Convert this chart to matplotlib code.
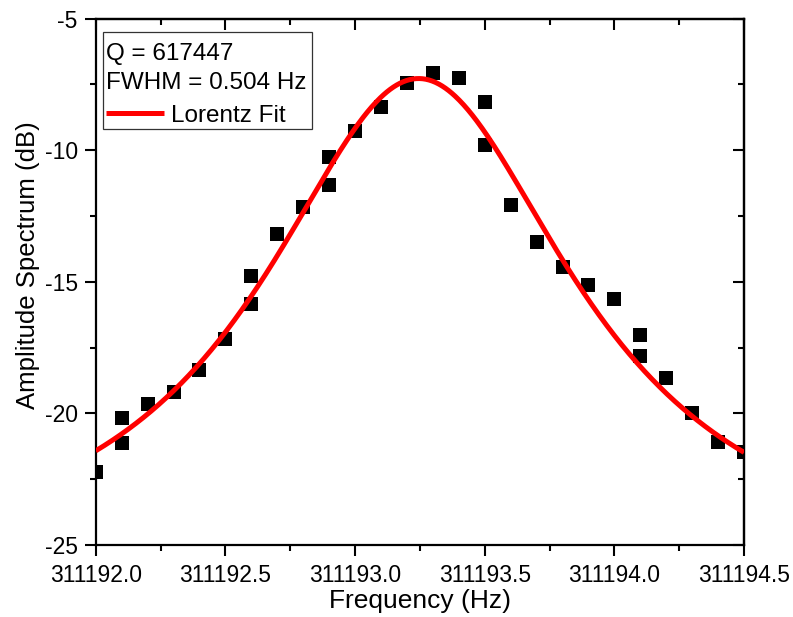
import numpy as np
import matplotlib
matplotlib.use("Agg")
import matplotlib.pyplot as plt
from matplotlib.ticker import MultipleLocator, FormatStrFormatter
from matplotlib.patches import Rectangle

plt.rcParams['font.family'] = ['Liberation Sans', 'DejaVu Sans']

# ---- data ----
freq = [311192.0, 311192.1, 311192.1, 311192.2, 311192.3, 311192.4, 311192.5,
        311192.6, 311192.6, 311192.7, 311192.8, 311192.9, 311192.9, 311193.0,
        311193.1, 311193.2, 311193.3, 311193.4, 311193.5, 311193.5, 311193.6,
        311193.7, 311193.8, 311193.9, 311194.0, 311194.1, 311194.1, 311194.2,
        311194.3, 311194.4, 311194.5]
amp_db = [-22.23, -20.17, -21.11, -19.66, -19.19, -18.34, -17.17,
          -15.84, -14.79, -13.20, -12.16, -11.33, -10.26, -9.29,
          -8.38, -7.45, -7.06, -7.27, -8.16, -9.79, -12.09,
          -13.48, -14.44, -15.11, -15.64, -17.03, -17.81, -18.64,
          -19.99, -21.07, -21.46]

# Lorentz fit parameters (y = y0 + H / (1 + (2(x-xc)/w)^2))
fit_xc = 311193.245
fit_w = 1.48
fit_H = 19.14
fit_y0 = -26.42

legend_title = "Q = 617447\nFWHM = 0.504 Hz"
fit_label = "Lorentz Fit"

x_ticks = [311192.0, 311192.5, 311193.0, 311193.5, 311194.0, 311194.5]
y_ticks = [-25, -20, -15, -10, -5]

# ---- figure ----
fig = plt.figure(figsize=(7.93, 6.17), dpi=100)
ax = fig.add_axes([0.1207, 0.1167, 0.8176, 0.8533])

ax.plot(freq, amp_db, linestyle='none', marker='s', markersize=10,
        markerfacecolor='black', markeredgewidth=0, color='black', zorder=2)

xf = np.linspace(311192.0, 311194.5, 600)
yf = fit_y0 + fit_H / (1 + (2 * (xf - fit_xc) / fit_w) ** 2)
fit_line, = ax.plot(xf, yf, color='#ff0000', linewidth=3.6, zorder=3,
                    solid_capstyle='butt')

ax.set_xlim(311192.0, 311194.5)
ax.set_ylim(-25, -5)
ax.set_xticks(x_ticks)
ax.set_yticks(y_ticks)
ax.xaxis.set_minor_locator(MultipleLocator(0.25))
ax.yaxis.set_minor_locator(MultipleLocator(2.5))
ax.xaxis.set_major_formatter(FormatStrFormatter('%.1f'))
ax.yaxis.set_major_formatter(FormatStrFormatter('%d'))

for s in ax.spines.values():
    s.set_linewidth(1.6)

ax.tick_params(which='major', direction='out', length=8, width=1.5,
               labelsize=16.5, pad=5)
ax.tick_params(which='minor', direction='out', length=4.5, width=1.5)
ax.tick_params(axis='x', which='major', pad=6)

# mirrored ticks pointing inward on top and right
top = ax.secondary_xaxis('top')
top.set_xticks(x_ticks)
top.xaxis.set_minor_locator(MultipleLocator(0.25))
top.tick_params(which='major', direction='in', length=8, width=1.5, labeltop=False)
top.tick_params(which='minor', direction='in', length=4.5, width=1.5)
top.spines['top'].set_linewidth(1.6)
right = ax.secondary_yaxis('right')
right.set_yticks(y_ticks)
right.yaxis.set_minor_locator(MultipleLocator(2.5))
right.tick_params(which='major', direction='in', length=8, width=1.5, labelright=False)
right.tick_params(which='minor', direction='in', length=4.5, width=1.5)
right.spines['right'].set_linewidth(1.6)

ax.set_xlabel("Frequency (Hz)", fontsize=19)
ax.set_ylabel("Amplitude Spectrum (dB)", fontsize=18.5)
ax.xaxis.set_label_coords(0.5, -0.083)
ax.yaxis.set_label_coords(-0.086, 0.532)

# legend frame drawn separately so the inner padding can match
frame = Rectangle((0.0108, 0.7896), 0.3224, 0.1853, transform=ax.transAxes,
                  facecolor='white', edgecolor='#333333', linewidth=0.9,
                  zorder=4)
ax.add_patch(frame)

leg = ax.legend(handles=[fit_line], labels=[fit_label], title=legend_title,
                loc='upper left', bbox_to_anchor=(0.0155, 0.9536),
                borderaxespad=0, fontsize=17.5, title_fontsize=17.5,
                alignment='left', frameon=False,
                handlelength=2.4, handletextpad=0.28, borderpad=0.0,
                labelspacing=0.2)
leg.set_zorder(5)
leg.get_title().set_linespacing(1.4)
leg._legend_box.sep = 8
for line in leg.get_lines():
    line.set_linewidth(3.6)

fig.savefig("out.png", dpi=100)
